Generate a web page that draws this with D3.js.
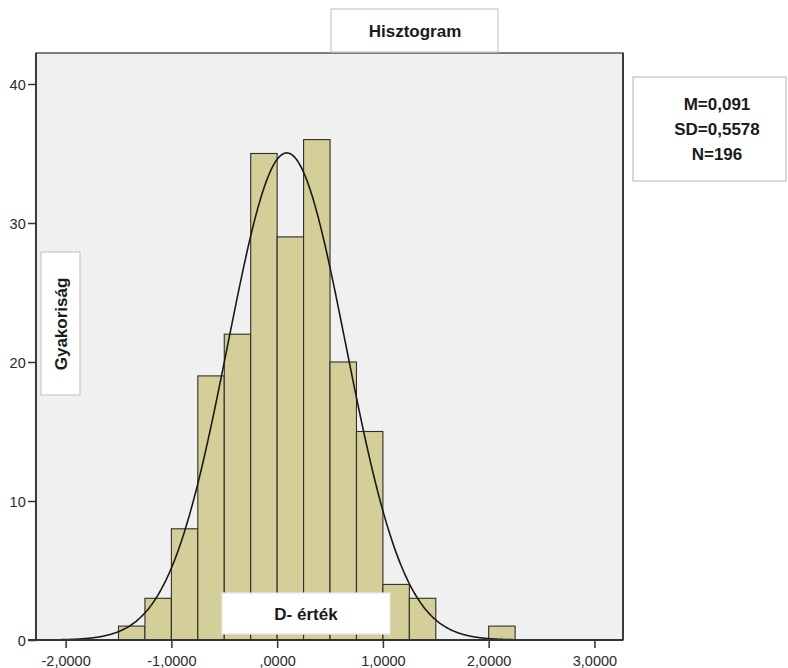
<!DOCTYPE html>
<html><head><meta charset="utf-8">
<script src="https://cdn.jsdelivr.net/npm/d3@7"></script>
<style>body{margin:0;background:#fff}svg{display:block}</style>
</head><body>
<svg id="c" width="788" height="668"></svg>
<script>
const binStarts = [-1.5,-1.25,-1.0,-0.75,-0.5,-0.25,0,0.25,0.5,0.75,1.0,1.25,2.0];
const counts    = [1,3,8,19,22,35,29,36,20,15,4,3,1];
const binWidth = 0.25;
const xTicks = [-2,-1,0,1,2,3];
const xTickLabels = ["-2,0000","-1,0000",",0000","1,0000","2,0000","3,0000"];
const yTicks = [0,10,20,30,40];
const stats = {mean:0.091, sd:0.5578, n:196};
const legendLines = ["M=0,091","SD=0,5578","N=196"];

const svg = d3.select("#c");
const L=36,R=623,T=53,B=640;
const x = d3.scaleLinear().domain([-2.28,3.27]).range([L,R]);
const y = d3.scaleLinear().domain([0,42.23]).range([B,T]);
const font = "'Liberation Sans', Arial, sans-serif";

svg.append("rect").attr("x",L).attr("y",T).attr("width",R-L).attr("height",B-T)
  .attr("fill","#f0f0f0").attr("stroke","#555").attr("stroke-width",1.5);

svg.append("clipPath").attr("id","pc").append("rect")
  .attr("x",L).attr("y",T).attr("width",R-L).attr("height",B-T);

svg.append("g").selectAll("rect").data(binStarts).join("rect")
  .attr("x",(d)=>x(d)).attr("width",(d)=>x(d+binWidth)-x(d))
  .attr("y",(d,i)=>y(counts[i])).attr("height",(d,i)=>B-y(counts[i]))
  .attr("fill","#d4cf98").attr("stroke","#2e2e2e").attr("stroke-width",1.1);

const pts = d3.range(-2.28,3.27,0.01).map(v=>[v,
  stats.n*binWidth/(stats.sd*Math.sqrt(2*Math.PI))*Math.exp(-0.5*Math.pow((v-stats.mean)/stats.sd,2))]);
svg.append("path").datum(pts).attr("clip-path","url(#pc)")
  .attr("d",d3.line().x(d=>x(d[0])).y(d=>y(d[1])).curve(d3.curveBasis))
  .attr("fill","none").attr("stroke","#1a1a1a").attr("stroke-width",1.6);

const xa = svg.append("g").attr("transform",`translate(0,${B})`)
  .call(d3.axisBottom(x).tickValues(xTicks).tickSize(8).tickFormat((d,i)=>xTickLabels[i]));
const ya = svg.append("g").attr("transform",`translate(${L},0)`)
  .call(d3.axisLeft(y).tickValues(yTicks).tickSize(8).tickFormat(d3.format("d")));
[xa,ya].forEach(a=>{
  a.select(".domain").remove();
  a.selectAll("line").attr("stroke","#333").attr("stroke-width",1.5);
  a.selectAll("text").attr("fill","#2b2b2b").style("font-family",font).style("font-size","14.5px");
});
xa.selectAll("text").attr("dy","1.0em");
ya.selectAll("text").attr("dy","0.36em").attr("dx","0.05em");
svg.append("line").attr("x1",L-8).attr("x2",R).attr("y1",B).attr("y2",B).attr("stroke","#333").attr("stroke-width",1.8);
svg.append("line").attr("x1",L).attr("x2",L).attr("y1",T).attr("y2",B).attr("stroke","#333").attr("stroke-width",1.8);
svg.append("line").attr("x1",R).attr("x2",R).attr("y1",T).attr("y2",B).attr("stroke","#333").attr("stroke-width",1.8);

function box(x0,y0,w,h,stroke){
  svg.append("rect").attr("x",x0).attr("y",y0).attr("width",w).attr("height",h)
    .attr("fill","#fff").attr("stroke",stroke).attr("stroke-width",1.2);
}
const bold = s=>s.style("font-family",font).style("font-size","17px").style("font-weight","bold").attr("fill","#1a1a1a");
box(331,9,167,43,"#c8c8c8");
bold(svg.append("text").attr("x",415).attr("y",31).attr("dy","0.35em").attr("text-anchor","middle")).text("Hisztogram");
box(633,77,153,104,"#c0c0c0");
bold(svg.append("g").selectAll("text").data(legendLines).join("text")
  .attr("x",717).attr("y",(d,i)=>104+i*25).attr("dy","0.35em").attr("text-anchor","middle")).text(d=>d);
box(41,252,39,143,"#c8c8c8");
bold(svg.append("text").attr("transform","translate(61,324) rotate(-90)").attr("dy","0.35em").attr("text-anchor","middle")).text("Gyakoriság");
box(222,593,168,41,"#e6e6e6");
bold(svg.append("text").attr("x",306).attr("y",614).attr("dy","0.35em").attr("text-anchor","middle")).text("D- érték");
</script>
</body></html>
